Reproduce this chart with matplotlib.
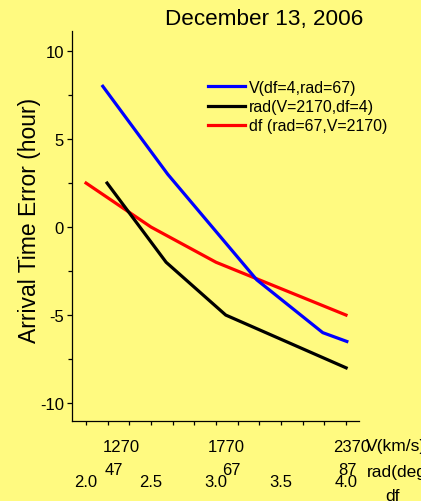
import matplotlib
matplotlib.use("Agg")
import matplotlib.pyplot as plt
from matplotlib.ticker import MultipleLocator

plt.rcParams['font.family'] = ['Liberation Sans', 'DejaVu Sans']
plt.rcParams['axes.unicode_minus'] = False

# ---- data ----
title = "December 13, 2006"
ylabel = "Arrival Time Error (hour)"

v_vals = [1180, 1490, 1915, 2230, 2345]          # km/s
v_err = [8.0, 3.0, -3.0, -6.0, -6.5]
v_label = "V(df=4,rad=67)"

rad_vals = [45.8, 55.9, 66.1, 86.7]               # deg
rad_err = [2.5, -2.0, -5.0, -8.0]
rad_label = "rad(V=2170,df=4)"

df_vals = [2.0, 2.5, 3.0, 3.5, 4.0]
df_err = [2.5, 0.0, -2.0, -3.5, -5.0]
df_label = "df (rad=67,V=2170)"

v_ticks = [1270, 1770, 2370]
rad_ticks = [47, 67, 87]
df_ticks = [2.0, 2.5, 3.0, 3.5, 4.0]
y_ticks = [-10, -5, 0, 5, 10]

bg = '#FFFA80'
W, H = 421, 502
fig = plt.figure(figsize=(W / 100, H / 100), dpi=100, facecolor=bg)

L, R, T, B = 72, 359, 32, 422
ax = fig.add_axes([L / W, 1 - B / H, (R - L) / W, (B - T) / H])
ax.set_facecolor('none')

# main (df) axis
ax.set_xlim(1.892, 4.1)
ax.set_ylim(-11.02, 11.14)
ax.plot(df_vals, df_err, color='#FF0000', lw=2.3, label=df_label, zorder=3)

for s in ['top', 'right']:
    ax.spines[s].set_visible(False)
for s in ['left', 'bottom']:
    ax.spines[s].set_linewidth(0.9)

ax.set_yticks(y_ticks)
ax.yaxis.set_minor_locator(MultipleLocator(2.5))
ax.tick_params(axis='y', which='major', direction='out', length=3.8, width=0.9,
               labelsize=12, pad=2)
ax.tick_params(axis='y', which='minor', direction='out', length=2.8, width=0.9)
ax.set_xticks(df_ticks)
ax.set_xticklabels([f"{t:.1f}" for t in df_ticks])
ax.xaxis.set_minor_locator(MultipleLocator(1 / 6))
ax.tick_params(axis='x', which='both', direction='out', length=3, width=0.9,
               labelsize=12, pad=35)

# V axis
axv = ax.twiny()
axv.set_xlim(1033, 2403)
axv.plot(v_vals, v_err, color='#0000FF', lw=2.3, label=v_label, zorder=3)
axv.xaxis.set_ticks_position('bottom')
axv.xaxis.set_label_position('bottom')
axv.set_xticks(v_ticks)
axv.set_xticklabels([str(t) for t in v_ticks])
axv.tick_params(axis='x', length=0, labelsize=12, pad=13)
for s in axv.spines.values():
    s.set_visible(False)

# rad axis
axr = ax.twiny()
axr.set_xlim(39.8, 88.9)
axr.plot(rad_vals, rad_err, color='black', lw=2.3, label=rad_label, zorder=3)
axr.xaxis.set_ticks_position('bottom')
axr.xaxis.set_label_position('bottom')
axr.set_xticks(rad_ticks)
axr.set_xticklabels([str(t) for t in rad_ticks])
axr.tick_params(axis='x', length=0, labelsize=12, pad=29.5)
for s in axr.spines.values():
    s.set_visible(False)

# axis names on the right
fig.text(366 / W, 1 - 447 / H, "V(km/s)", fontsize=12.5, ha='left', va='center')
fig.text(367 / W, 1 - 472 / H, "rad(deg)", fontsize=12.5, ha='left', va='center')
fig.text(393 / W, 1 - 497 / H, "df", fontsize=12.5, ha='center', va='center')

fig.text(264 / W, 1 - 20 / H, title, fontsize=16.2, ha='center', va='center')
fig.text(30 / W, 1 - 220 / H, ylabel, fontsize=16.5, rotation=90,
         ha='center', va='center')

handles = [axv.get_lines()[0], axr.get_lines()[0], ax.get_lines()[0]]
fig.legend(handles, [h.get_label() for h in handles], loc='upper left',
           bbox_to_anchor=(208 / W, 1 - 81 / H), frameon=False, fontsize=11.5,
           handlelength=2.3, handletextpad=0.25, labelspacing=0.26,
           borderpad=0, borderaxespad=0)

fig.savefig('out.png', dpi=100, facecolor=bg)
